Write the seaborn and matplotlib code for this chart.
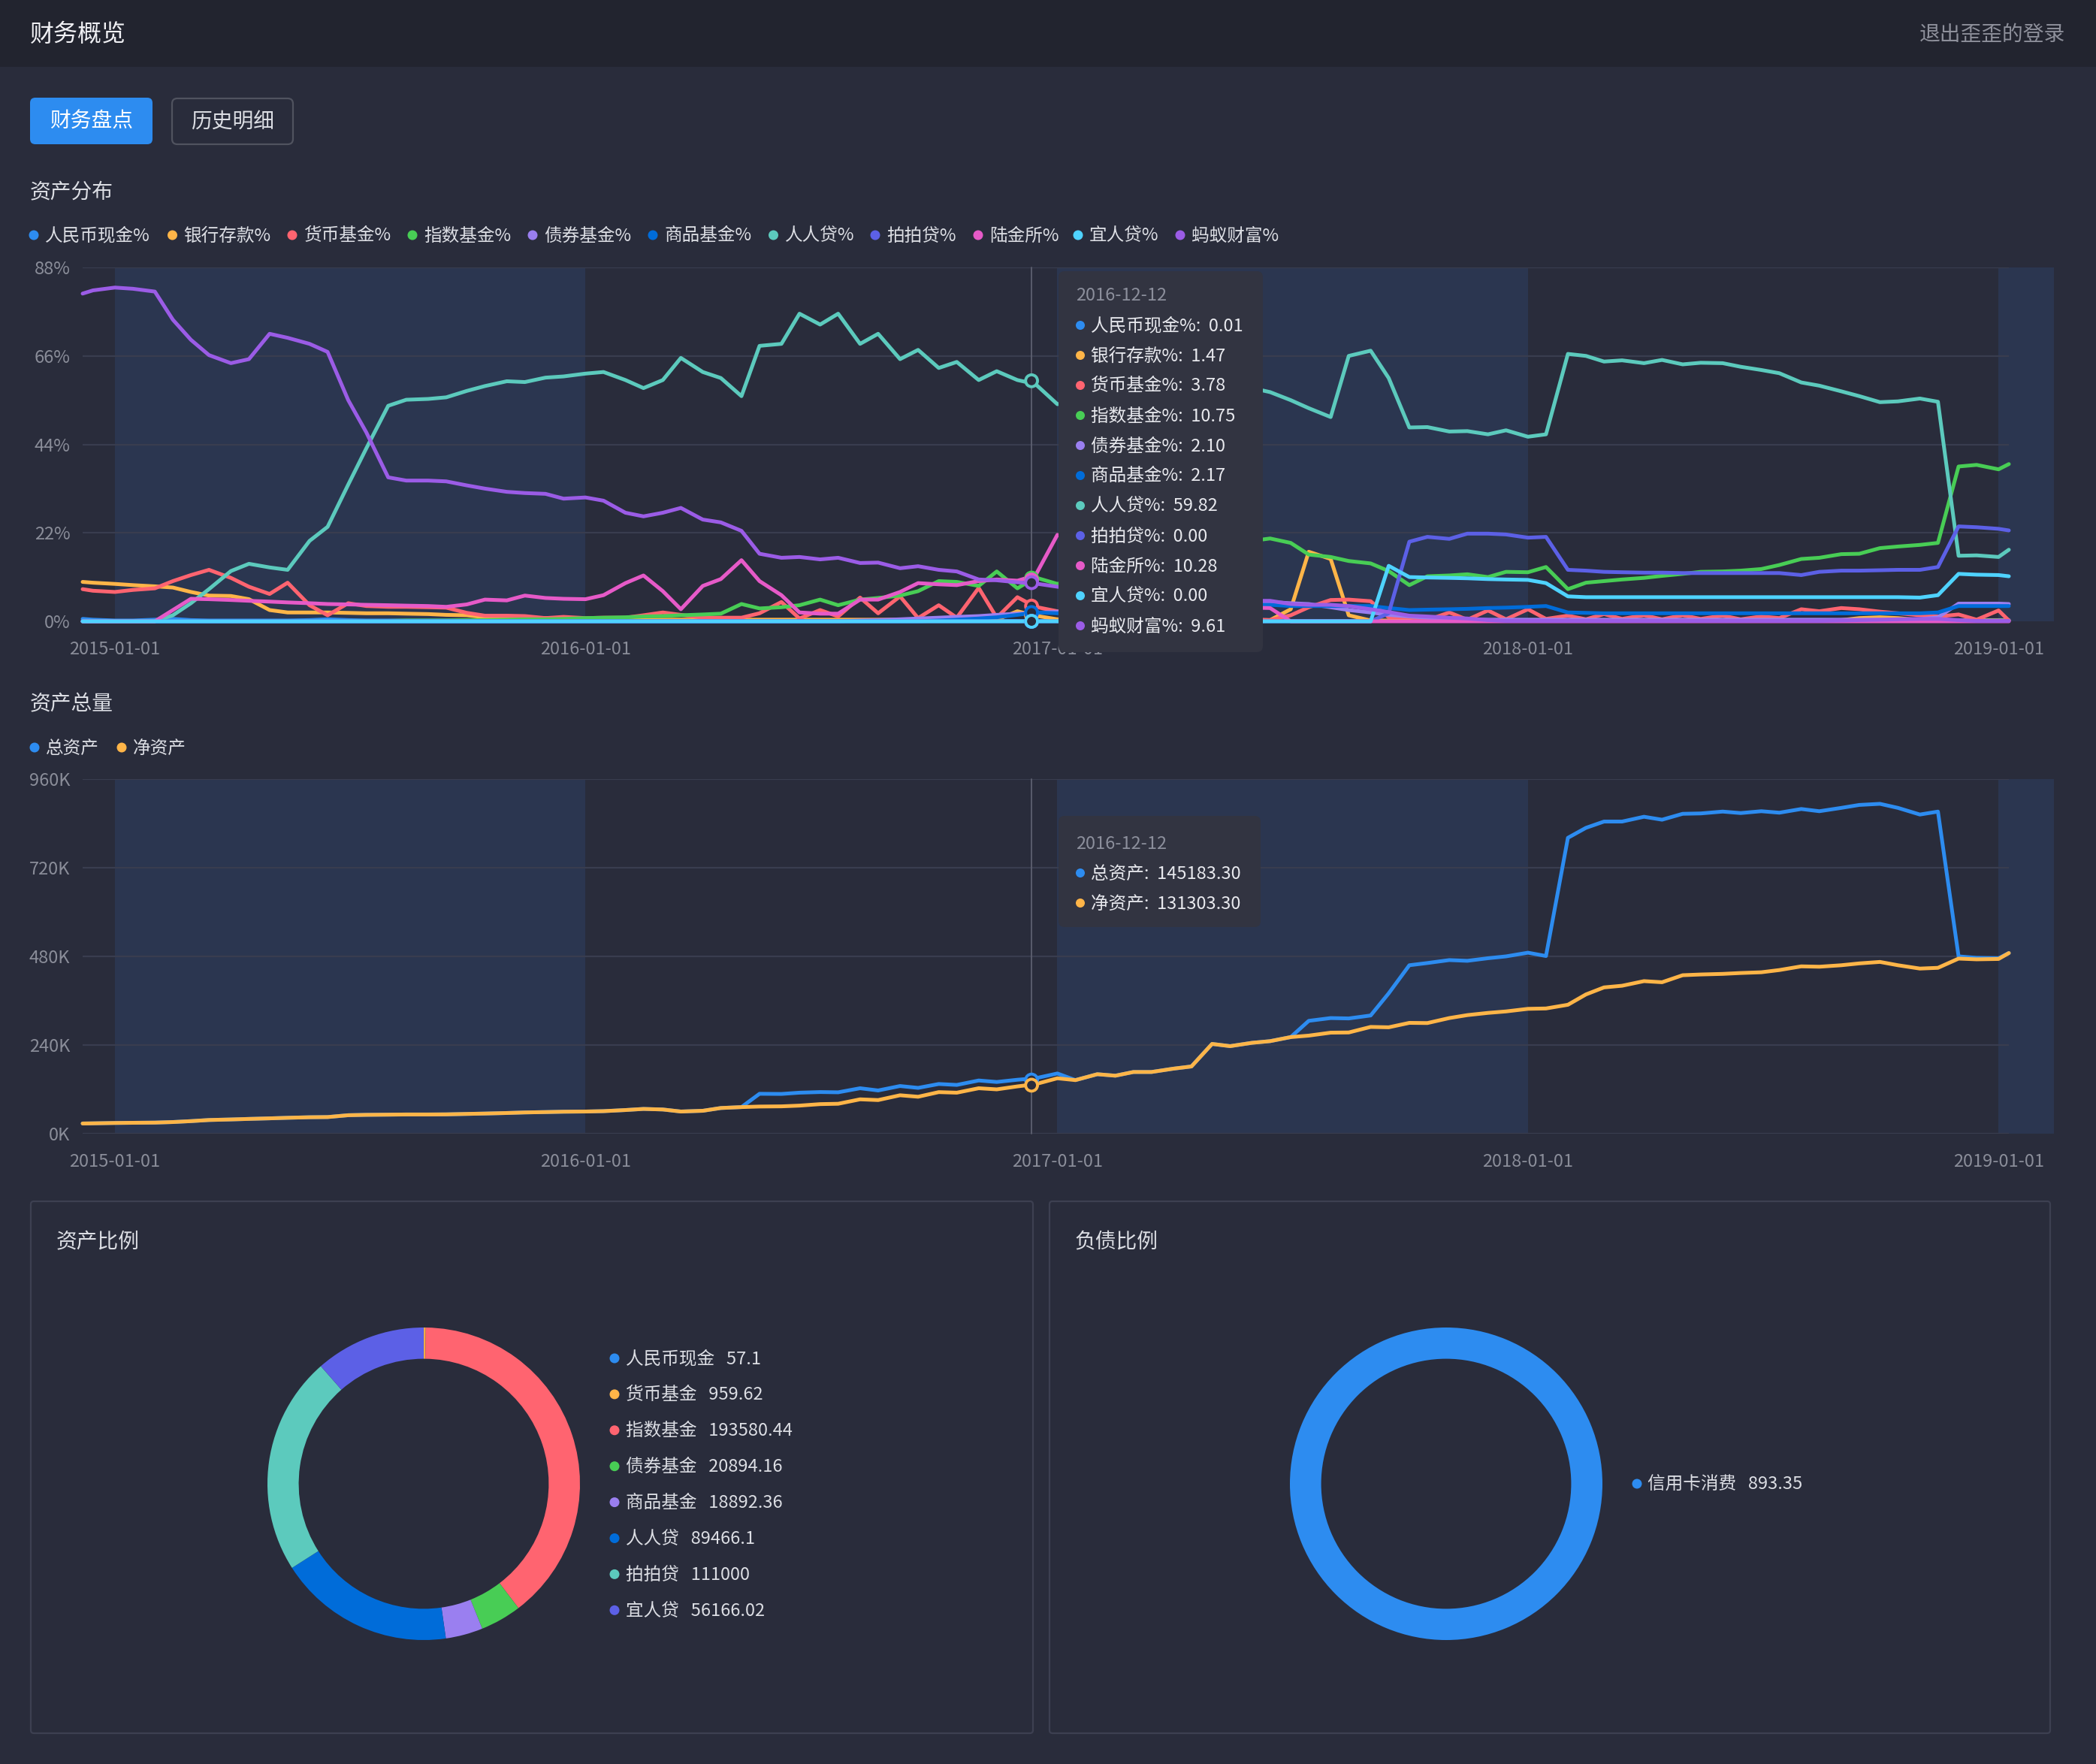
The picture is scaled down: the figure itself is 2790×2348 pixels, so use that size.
import pandas as pd
import seaborn as sns
import matplotlib.pyplot as plt
import matplotlib.dates as mdates
from matplotlib.patches import FancyBboxPatch, Circle, Rectangle

# ---------------- data ----------------
# semi-monthly samples (1st / 15th), plus first and last day of the data
dates = (pd.to_datetime(['2014-12-07'])
         .append(pd.date_range('2014-12-15', '2019-01-01', freq='SMS'))
         .append(pd.to_datetime(['2019-01-09'])))

series_names = ['人民币现金%', '银行存款%', '货币基金%', '指数基金%', '债券基金%', '商品基金%',
                '人人贷%', '拍拍贷%', '陆金所%', '宜人贷%', '蚂蚁财富%']
series_colors = ['#2d8cf0', '#ffb548', '#ff6470', '#48cd55', '#9a7ff0', '#006cd9',
                 '#5ccabd', '#5c60e6', '#e65ac8', '#4fd3ff', '#9b5ce6']

rmb_cash = [0.6, 0.4,
            0.2, 0.2, 0.4, 0.6, 0.3, 0.2, 0.2, 0.2, 0.2, 0.2, 0.3, 0.5,
            0.3, 0.2, 0.2, 0.2, 0.2, 0.2, 0.2, 0.2, 0.2, 0.2, 0.2, 0.2,
            0.1, 0.1, 0.1, 0.1, 0.1, 0.1, 0.1, 0.1, 0.1, 0.1, 0.1, 0.1,
            0.1, 0.1, 0.1, 0.1, 0.1, 0.1, 0.1, 0.1, 0.1, 0.1, 0.1, 0.1,
            0.1, 0.1, 0.1, 0.1, 0.1, 0.1, 0.1, 0.1, 0.1, 0.1, 0.1, 0.1,
            0.1, 0.1, 0.1, 0.1, 0.1, 0.1, 0.1, 0.1, 0.1, 0.1, 0.1, 0.1,
            0.1, 0.1, 0.1, 0.1, 0.1, 0.1, 0.1, 0.1, 0.1, 0.1, 0.1, 0.1,
            0.1, 0.1, 0.1, 0.1, 0.1, 0.1, 0.1, 0.1, 0.1, 0.1, 0.3, 0.3,
            0.3, 0.3]
bank = [9.8, 9.6,
        9.3, 9.0, 8.7, 8.4, 7.3, 6.4, 6.3, 5.5, 2.8, 2.2, 2.2, 2.2,
        2.1, 2.0, 2.0, 1.9, 1.8, 1.6, 1.5, 1.0, 0.8, 0.8, 0.8, 0.8,
        0.6, 0.5, 0.4, 0.4, 0.4, 0.4, 0.4, 0.4, 0.4, 0.4, 0.4, 0.4,
        0.4, 0.4, 0.4, 0.4, 0.4, 0.4, 0.4, 0.4, 0.4, 0.4, 2.5, 1.4,
        0.5, 0.3, 0.3, 0.3, 0.3, 0.3, 0.3, 0.3, 0.3, 0.3, 0.3, 0.3,
        3.0, 17.3, 15.5, 1.5, 0.2, 0.2, 0.2, 0.2, 0.2, 0.2, 0.2, 0.2,
        0.2, 0.2, 0.2, 0.2, 0.2, 0.2, 0.2, 0.2, 0.2, 0.2, 0.2, 0.2,
        0.2, 0.2, 0.2, 0.2, 0.3, 0.8, 1.0, 0.8, 0.3, 0.2, 0.2, 0.2,
        0.2, 0.2]
money_fund = [8.0, 7.6,
              7.3, 7.8, 8.2, 10.0, 11.5, 12.8, 10.8, 8.6, 6.8, 9.6, 4.0, 1.5,
              4.5, 3.8, 3.6, 3.6, 3.5, 3.4, 2.1, 1.4, 1.4, 1.3, 0.8, 1.1,
              0.8, 0.9, 0.9, 1.5, 2.2, 1.6, 0.9, 0.9, 0.9, 2.0, 4.8, 0.7,
              2.8, 1.2, 5.9, 2.0, 6.2, 0.8, 4.0, 0.9, 8.3, 0.9, 6.0, 3.6,
              2.5, 2.2, 2.0, 1.8, 1.6, 1.4, 1.2, 1.0, 0.8, 0.6, 0.5, 0.3,
              1.5, 3.5, 5.3, 5.4, 5.0, 1.0, 1.0, 0.3, 2.2, 0.4, 2.7, 0.5,
              3.0, 0.6, 1.4, 0.5, 1.8, 0.6, 1.5, 0.5, 1.5, 0.6, 1.4, 0.5,
              1.2, 0.8, 3.0, 2.5, 3.3, 3.0, 2.4, 2.0, 1.5, 1.2, 1.7, 0.4,
              2.7, 0.2]
index_fund = [0, 0,
              0, 0, 0, 0, 0, 0, 0, 0, 0, 0, 0, 0,
              0.1, 0.1, 0.1, 0.2, 0.2, 0.2, 0.3, 0.3, 0.4, 0.5, 0.5, 0.6,
              0.8, 0.9, 1.0, 1.2, 1.3, 1.5, 1.7, 1.9, 4.3, 3.2, 3.5, 4.0,
              5.4, 4.0, 5.4, 5.8, 6.4, 7.5, 10.0, 9.8, 8.8, 12.4, 8.2, 10.9,
              9.3, 10.5, 12.0, 13.0, 14.0, 15.0, 16.0, 17.0, 18.0, 19.0, 20.0, 20.6,
              19.5, 16.6, 16.0, 15.0, 14.4, 12.5, 9.0, 11.2, 11.4, 11.7, 11.0, 12.3,
              12.2, 13.5, 8.0, 9.6, 10.0, 10.4, 10.8, 11.3, 11.8, 12.3, 12.4, 12.6,
              13.0, 14.0, 15.5, 15.8, 16.7, 16.8, 18.2, 18.6, 19.0, 19.5, 38.5, 38.9,
              37.8, 39.1]
bond_fund = [0, 0,
             0, 0, 0, 0, 0, 0, 0, 0, 0, 0, 0, 0,
             0, 0, 0, 0, 0, 0, 0, 0, 0, 0, 0, 0,
             0, 0, 0, 0, 0, 0, 0, 0, 0, 0, 0, 0,
             0, 0, 0.2, 0.3, 0.5, 0.7, 0.9, 1.1, 1.3, 1.6, 1.9, 2.1,
             2.4, 2.7, 3.0, 3.3, 3.6, 3.9, 4.2, 4.4, 4.6, 4.7, 4.8, 4.8,
             4.5, 4.3, 3.5, 2.8, 2.2, 1.6, 1.2, 0.9, 0.6, 0.5, 0.4, 0.4,
             0.4, 0.4, 0.4, 0.4, 0.4, 0.4, 0.4, 0.4, 0.4, 0.4, 0.4, 0.4,
             0.4, 0.4, 0.4, 0.4, 0.4, 0.4, 0.4, 0.4, 0.5, 1.0, 4.4, 4.4,
             4.4, 4.3]
commodity_fund = [0, 0,
                  0, 0, 0, 0, 0, 0, 0, 0, 0, 0, 0, 0,
                  0, 0, 0, 0, 0, 0, 0, 0, 0, 0, 0, 0,
                  0, 0, 0, 0, 0, 0, 0, 0, 0, 0, 0, 0,
                  0, 0, 0, 0, 0, 0, 0.2, 0.4, 0.7, 1.0, 1.6, 2.2,
                  2.0, 2.4, 2.8, 3.1, 3.4, 3.6, 3.8, 3.9, 4.0, 4.1, 4.1, 4.1,
                  3.8, 3.8, 3.8, 3.8, 3.8, 3.3, 2.8, 2.9, 3.0, 3.1, 3.3, 3.4,
                  3.6, 3.8, 2.2, 2.1, 2.0, 2.0, 2.0, 2.0, 2.0, 2.0, 2.0, 2.0,
                  2.0, 2.0, 2.0, 2.0, 2.0, 2.0, 2.0, 2.0, 2.0, 2.2, 3.8, 3.8,
                  3.8, 3.8]
renrendai = [0, 0,
             0, 0, 0, 1.5, 4.5, 8.0, 12.5, 14.3, 13.4, 12.8, 20.0, 23.5,
             34.0, 43.0, 53.6, 55.1, 55.3, 55.7, 57.3, 58.5, 59.7, 59.5, 60.6, 60.9,
             61.6, 62.0, 60.0, 58.0, 60.0, 65.5, 62.0, 60.5, 56.0, 68.5, 69.0, 76.5,
             73.8, 76.5, 69.0, 71.5, 65.2, 67.5, 63.0, 64.5, 60.0, 62.2, 60.0, 59.0,
             54.0, 54.5, 55.2, 55.8, 56.3, 56.8, 57.2, 57.5, 57.8, 58.0, 58.0, 57.0,
             55.0, 53.0, 50.8, 66.0, 67.3, 60.5, 48.2, 48.3, 47.2, 47.3, 46.5, 47.5,
             45.9, 46.5, 66.5, 66.0, 64.6, 64.9, 64.2, 65.0, 63.9, 64.3, 64.2, 63.3,
             62.5, 61.7, 59.4, 58.6, 57.2, 56.0, 54.5, 54.7, 55.4, 54.6, 16.3, 16.4,
             16.0, 17.8]
paipaidai = [0, 0,
             0, 0, 0, 0, 0, 0, 0, 0, 0, 0, 0, 0,
             0, 0, 0, 0, 0, 0, 0, 0, 0, 0, 0, 0,
             0, 0, 0, 0, 0, 0, 0, 0, 0, 0, 0, 0,
             0, 0, 0, 0, 0, 0, 0, 0, 0, 0, 0, 0,
             0, 0, 0, 0, 0, 0, 0, 0, 0, 0, 0, 0,
             0, 0, 0, 0, 0, 2.0, 19.8, 21.0, 20.5, 21.8, 21.8, 21.6,
             20.8, 21.0, 12.8, 12.6, 12.3, 12.2, 12.1, 12.1, 12.0, 12.0, 12.0, 12.0,
             12.0, 12.0, 11.5, 12.3, 12.6, 12.6, 12.7, 12.8, 12.8, 13.5, 23.6, 23.4,
             23.0, 22.6]
lufax = [0, 0,
         0, 0, 0, 2.8, 5.6, 5.5, 5.3, 5.1, 4.9, 4.7, 4.5, 4.3,
         4.2, 4.1, 4.0, 3.9, 3.8, 3.6, 4.2, 5.4, 5.2, 6.4, 5.8, 5.6,
         5.5, 6.5, 9.5, 11.4, 7.5, 3.0, 8.8, 10.5, 15.2, 10.0, 6.5, 2.2,
         1.9, 1.9, 5.4, 5.4, 7.3, 9.5, 9.2, 9.0, 10.0, 10.4, 10.1, 11.4,
         21.5, 20.0, 15.0, 10.0, 7.0, 6.0, 5.0, 4.5, 4.0, 3.6, 3.4, 3.3,
         0, 0, 0, 0, 0, 0, 0, 0, 0, 0, 0, 0,
         0, 0, 0, 0, 0, 0, 0, 0, 0, 0, 0, 0,
         0, 0, 0, 0, 0, 0, 0, 0, 0, 0, 0, 0,
         0, 0]
yirendai = [0, 0,
            0, 0, 0, 0, 0, 0, 0, 0, 0, 0, 0, 0,
            0, 0, 0, 0, 0, 0, 0, 0, 0, 0, 0, 0,
            0, 0, 0, 0, 0, 0, 0, 0, 0, 0, 0, 0,
            0, 0, 0, 0, 0, 0, 0, 0, 0, 0, 0, 0,
            0, 0, 0, 0, 0, 0, 0, 0, 0, 0, 0, 0,
            0, 0, 0, 0, 0, 13.8, 11.0, 10.9, 10.8, 10.7, 10.5, 10.4,
            10.3, 9.5, 6.2, 6.0, 6.0, 6.0, 6.0, 6.0, 6.0, 6.0, 6.0, 6.0,
            6.0, 6.0, 6.0, 6.0, 6.0, 6.0, 6.0, 6.0, 5.9, 6.5, 11.8, 11.6,
            11.5, 11.2]
ant_fortune = [81.5, 82.3,
               83.0, 82.7, 82.0, 75.0, 70.0, 66.2, 64.2, 65.2, 71.5, 70.5, 69.0, 67.0,
               55.0, 47.0, 35.8, 35.0, 35.0, 34.8, 33.8, 33.0, 32.2, 31.9, 31.7, 30.5,
               30.8, 30.0, 27.0, 26.1, 27.0, 28.2, 25.3, 24.6, 22.5, 16.8, 15.8, 16.0,
               15.4, 15.8, 14.5, 14.6, 13.2, 13.7, 12.8, 12.4, 10.4, 10.2, 9.7, 9.4,
               8.6, 8.0, 7.4, 6.9, 6.5, 6.1, 5.8, 5.5, 5.3, 5.2, 5.1, 5.1,
               4.3, 4.1, 4.1, 3.8, 3.0, 2.3, 1.4, 1.2, 0.9, 0.7, 0.3, 0.1,
               0.1, 0.1, 0.1, 0.1, 0.1, 0.1, 0.1, 0.1, 0.1, 0.1, 0.1, 0.1,
               0.1, 0.1, 0.1, 0.1, 0.2, 0.3, 0.4, 0.5, 0.6, 0.6, 0.3, 0.1,
               0.1, 0.1]
series_values = [rmb_cash, bank, money_fund, index_fund, bond_fund, commodity_fund,
                 renrendai, paipaidai, lufax, yirendai, ant_fortune]

# asset totals, thousands
net_assets_k = [27.6, 28.0,
                29.0, 29.5, 30.0, 31.5, 34.0, 37.0, 38.5, 40.0, 41.5, 43.0, 44.5, 45.0,
                50.0, 51.0, 51.5, 52.0, 52.0, 52.3, 53.5, 54.5, 56.0, 57.5, 58.5, 59.5,
                60.0, 61.0, 64.0, 67.0, 65.5, 60.0, 62.0, 69.5, 72.0, 73.5, 74.0, 76.0,
                80.0, 81.0, 93.0, 91.0, 104.0, 100.0, 112.5, 111.0, 123.0, 120.0, 128.0, 134.0,
                150.0, 145.0, 161.0, 157.0, 167.0, 167.0, 176.0, 182.0, 243.0, 237.0, 246.0, 250.5,
                261.5, 265.5, 273.5, 274.0, 289.0, 288.0, 300.0, 299.5, 313.0, 321.0, 327.0, 331.0,
                338.0, 339.0, 349.0, 377.0, 396.0, 400.5, 413.0, 410.0, 429.0, 431.0, 432.6, 435.0,
                437.0, 443.0, 453.0, 452.0, 456.0, 461.0, 465.0, 456.0, 447.0, 449.0, 474.0, 472.0,
                473.0, 489.0]
total_assets_k = [27.6, 28.0,
                  29.0, 29.5, 30.0, 31.5, 34.0, 37.0, 38.5, 40.0, 41.5, 43.0, 44.5, 45.0,
                  50.0, 51.0, 51.5, 52.0, 52.0, 52.3, 53.5, 54.5, 56.0, 57.5, 58.5, 59.5,
                  60.0, 61.0, 64.0, 67.0, 65.5, 60.0, 62.0, 69.5, 72.0, 108.0, 107.6, 111.0,
                  112.7, 112.0, 123.0, 117.0, 129.0, 124.0, 134.5, 132.0, 144.0, 140.0, 146.0, 150.0,
                  163.0, 145.0, 161.0, 157.0, 167.0, 167.0, 176.0, 182.0, 243.0, 237.0, 246.0, 250.5,
                  261.5, 305.5, 313.0, 312.0, 320.0, 380.0, 456.0, 462.0, 470.0, 468.0, 475.0, 480.0,
                  490.0, 481.0, 801.0, 828.0, 845.0, 845.0, 858.0, 850.0, 866.0, 867.0, 872.0, 868.0,
                  873.0, 869.0, 879.0, 873.0, 882.0, 890.0, 893.0, 882.0, 864.0, 872.0, 480.0, 476.0,
                  475.0, 489.0]
total_names = ['总资产', '净资产']
total_colors = ['#2d8cf0', '#ffb548']

# tooltip (2016-12-12)
tip_date = '2016-12-12'
tip_share = [0.01, 1.47, 3.78, 10.75, 2.10, 2.17, 59.82, 0.00, 10.28, 0.00, 9.61]
tip_totals = [145183.30, 131303.30]

# donuts
asset_names = ['人民币现金', '货币基金', '指数基金', '债券基金', '商品基金', '人人贷', '拍拍贷', '宜人贷']
asset_values = [57.1, 959.62, 193580.44, 20894.16, 18892.36, 89466.1, 111000, 56166.02]
asset_colors = ['#2d8cf0', '#ffb548', '#ff6470', '#48cd55', '#9a7ff0', '#006cd9', '#5ccabd', '#5c60e6']
debt_names = ['信用卡消费']
debt_values = [893.35]
debt_colors = ['#2d8cf0']

# ---------------- style ----------------
BG = '#292c3b'
HEADER = '#22242f'
BAND = '#2b3650'
GRID = '#393d4f'
TICK = '#8a8d99'
TXT = '#dcdee4'
TIP_BG = '#323441'
EDGE = '#3d4051'

sns.set_theme(style='dark', rc={'axes.facecolor': BG, 'figure.facecolor': BG})
plt.rcParams['font.family'] = ['Noto Sans CJK SC', 'DejaVu Sans']

W, H = 2790, 2348
fig = plt.figure(figsize=(W / 100, H / 100), dpi=100, facecolor=BG)


def px_axes(x0, y0, x1, y1, **kw):
    return fig.add_axes([x0 / W, 1 - y1 / H, (x1 - x0) / W, (y1 - y0) / H], **kw)


x_start, x_end = pd.Timestamp('2014-12-07'), pd.Timestamp('2019-01-09')
bands = [('2015-01-01', '2016-01-01'), ('2017-01-01', '2018-01-01'), ('2019-01-01', '2019-02-13')]
year_ticks = pd.to_datetime(['2015-01-01', '2016-01-01', '2017-01-01', '2018-01-01', '2019-01-01'])
mark = pd.Timestamp(tip_date)


def style_time_axes(ax):
    ax.set_facecolor(BG)
    for a, b in bands:
        ax.axvspan(pd.Timestamp(a), pd.Timestamp(b), color=BAND, lw=0, zorder=0.2, clip_on=False)
    for s in ax.spines.values():
        s.set_visible(False)
    ax.set_axisbelow(True)
    ax.yaxis.grid(True, color=GRID, lw=1.6)
    ax.xaxis.grid(False)
    ax.set_xticks(year_ticks)
    ax.xaxis.set_major_formatter(mdates.DateFormatter('%Y-%m-%d'))
    ax.tick_params(axis='both', length=0, colors=TICK, labelsize=17)
    ax.tick_params(axis='x', pad=19)
    ax.tick_params(axis='y', pad=12)
    ax.set_xlabel('')
    ax.set_ylabel('')
    ax.axvline(mark, color='#5d6070', lw=1.3, zorder=1.5)
    ax.set_xlim(x_start, x_end)
    for ln in ax.lines:
        ln.set_clip_on(False)


# ---- asset share lines ----
ax1 = px_axes(110, 356, 2674, 827)
df_share = pd.concat([pd.DataFrame({'date': dates, 'value': v, 'series': n})
                      for n, v in zip(series_names, series_values)])
sns.lineplot(data=df_share, x='date', y='value', hue='series', hue_order=series_names,
             palette=dict(zip(series_names, series_colors)), linewidth=3.6,
             legend=False, errorbar=None, sort=False, ax=ax1)
ax1.set_ylim(0, 88)
ax1.set_yticks([0, 22, 44, 66, 88])
ax1.yaxis.set_major_formatter(plt.FuncFormatter(lambda v, p: f'{v:.0f}%'))
style_time_axes(ax1)
ax1.scatter([mark] * len(tip_share), tip_share, s=130, facecolor=BG,
            edgecolor=series_colors, linewidth=2.8, zorder=6, clip_on=False)

# ---- asset totals ----
ax2 = px_axes(110, 1037, 2674, 1509)
df_total = pd.concat([pd.DataFrame({'date': dates, 'value': v, 'series': n})
                      for n, v in zip(total_names, [total_assets_k, net_assets_k])])
sns.lineplot(data=df_total, x='date', y='value', hue='series', hue_order=total_names,
             palette=dict(zip(total_names, total_colors)), linewidth=3.6,
             legend=False, errorbar=None, sort=False, ax=ax2)
ax2.set_ylim(0, 960)
ax2.set_yticks([0, 240, 480, 720, 960])
ax2.yaxis.set_major_formatter(plt.FuncFormatter(lambda v, p: f'{v:.0f}K'))
style_time_axes(ax2)
ax2.scatter([mark] * 2, [t / 1000 for t in tip_totals], s=130, facecolor=BG,
            edgecolor=total_colors, linewidth=2.8, zorder=6, clip_on=False)

# ---- donuts ----
pa = px_axes(564 - 208, 1975 - 208, 564 + 208, 1975 + 208)
pa.pie(asset_values, colors=asset_colors, startangle=90, counterclock=False, radius=1,
       wedgeprops=dict(width=0.2, edgecolor='none'))
pa.set_xlim(-1, 1)
pa.set_ylim(-1, 1)
pb = px_axes(1925 - 208, 1975 - 208, 1925 + 208, 1975 + 208)
pb.pie(debt_values, colors=debt_colors, startangle=90, counterclock=False, radius=1,
       wedgeprops=dict(width=0.2, edgecolor='none'))
pb.set_xlim(-1, 1)
pb.set_ylim(-1, 1)

# ---------------- page chrome (pixel overlay) ----------------
ov = fig.add_axes([0, 0, 1, 1], zorder=20)
ov.set_xlim(0, W)
ov.set_ylim(H, 0)
ov.axis('off')
ov.patch.set_visible(False)

ov.add_patch(Rectangle((0, 0), W, 89, fc=HEADER, ec='none'))
ov.text(40, 46, '财务概览', color='#f0f0f4', fontsize=23, va='center', ha='left')
ov.text(2749, 46, '退出歪歪的登录', color='#8e909b', fontsize=20, va='center', ha='right')

ov.add_patch(FancyBboxPatch((40, 130), 163, 62, boxstyle='round,pad=0,rounding_size=7',
                            fc='#2d8cf0', ec='none'))
ov.text(121.5, 162, '财务盘点', color='white', fontsize=20, va='center', ha='center')
ov.add_patch(FancyBboxPatch((229, 131), 161, 61, boxstyle='round,pad=0,rounding_size=7',
                            fc='none', ec='#50535f', lw=1.6))
ov.text(309.5, 162, '历史明细', color=TXT, fontsize=20, va='center', ha='center')

ov.text(40, 255, '资产分布', color=TXT, fontsize=20, va='center')
ov.text(40, 937, '资产总量', color=TXT, fontsize=20, va='center')

legend_x = [45, 229.5, 389, 549, 709, 869, 1029.5, 1165, 1302, 1435, 1571]
for x, n, c in zip(legend_x, series_names, series_colors):
    ov.add_patch(Circle((x, 313), 6.5, fc=c, ec='none'))
    ov.text(x + 15, 314, n, color=TXT, fontsize=17, va='center')
for x, n, c in zip([46, 162], total_names, total_colors):
    ov.add_patch(Circle((x, 995), 6.5, fc=c, ec='none'))
    ov.text(x + 15, 996, n, color=TXT, fontsize=17, va='center')

# tooltips
ov.add_patch(FancyBboxPatch((1409, 361), 272, 507, boxstyle='round,pad=0,rounding_size=8',
                            fc=TIP_BG, ec='none'))
ov.text(1432, 394, tip_date, color='#8c8f9c', fontsize=17, va='center')
for i, (n, c, v) in enumerate(zip(series_names, series_colors, tip_share)):
    y = 433 + 40 * i
    ov.add_patch(Circle((1438, y), 6, fc=c, ec='none'))
    ov.text(1452, y + 1, f'{n}:  {v:.2f}', color='#e8e9ee', fontsize=17, va='center')

ov.add_patch(FancyBboxPatch((1409, 1086), 269, 148, boxstyle='round,pad=0,rounding_size=8',
                            fc=TIP_BG, ec='none'))
ov.text(1432, 1123, tip_date, color='#8c8f9c', fontsize=17, va='center')
for i, (n, c, v) in enumerate(zip(total_names, total_colors, tip_totals)):
    y = 1162 + 40 * i
    ov.add_patch(Circle((1438, y), 6, fc=c, ec='none'))
    ov.text(1452, y + 1, f'{n}:  {v:.2f}', color='#e8e9ee', fontsize=17, va='center')

# bottom panels
ov.add_patch(FancyBboxPatch((41, 1599), 1334, 708, boxstyle='round,pad=0,rounding_size=4',
                            fc='none', ec=EDGE, lw=1.6))
ov.add_patch(FancyBboxPatch((1397, 1599), 1332, 708, boxstyle='round,pad=0,rounding_size=4',
                            fc='none', ec=EDGE, lw=1.6))
ov.text(75, 1652, '资产比例', color=TXT, fontsize=20, va='center')
ov.text(1430, 1652, '负债比例', color=TXT, fontsize=20, va='center')

for i, (n, c, v) in enumerate(zip(asset_names, asset_colors, asset_values)):
    y = 1808 + 47.9 * i
    ov.add_patch(Circle((818, y), 6.5, fc=c, ec='none'))
    ov.text(833, y + 1, f'{n}   {v}', color=TXT, fontsize=17, va='center')
for n, c, v in zip(debt_names, debt_colors, debt_values):
    ov.add_patch(Circle((2179, 1975), 6.5, fc=c, ec='none'))
    ov.text(2193, 1976, f'{n}   {v}', color=TXT, fontsize=17, va='center')

fig.savefig('out.png', dpi=100, facecolor=BG)
